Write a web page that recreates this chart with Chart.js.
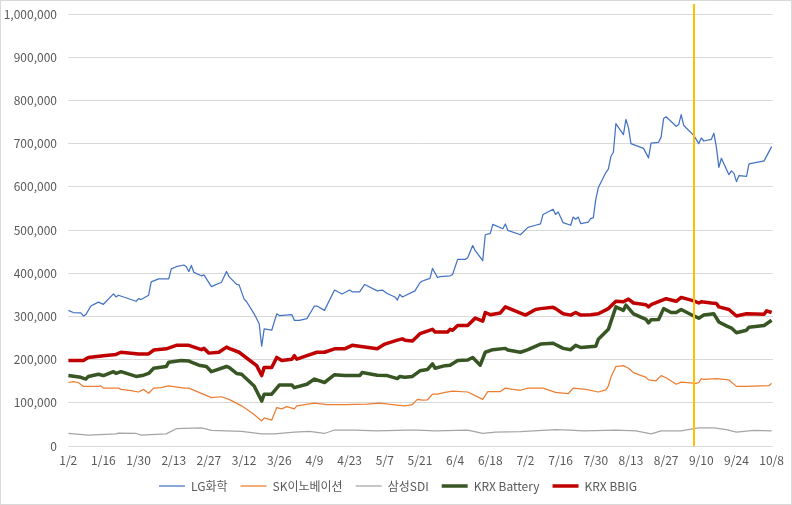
<!DOCTYPE html>
<html>
<head>
<meta charset="utf-8">
<script src="https://cdn.jsdelivr.net/npm/chart.js@4.4.1/dist/chart.umd.min.js"></script>
<style>
  html, body { margin: 0; padding: 0; background: #fff; }
  #wrap { width: 792px; height: 505px; box-sizing: border-box; border: 1px solid #d9d9d9; }
  canvas { display: block; }
</style>
</head>
<body>
<div id="wrap"><canvas id="chart" width="790" height="503"></canvas></div>
<script>
// values in thousand won (2020)
const tickLabels = ['1/2','1/16','1/30','2/13','2/27','3/12','3/26','4/9','4/23','5/7','5/21','6/4','6/18','7/2','7/16','7/30','8/13','8/27','9/10','9/24','10/8'];
const markerDate = '9/7';

const lgDates = ['1/2','1/4','1/7','1/8','1/9','1/11','1/14','1/16','1/20','1/21','1/22','1/29','1/30','1/31','2/3','2/4','2/7','2/11','2/12','2/14',
  '2/17','2/18','2/19','2/20','2/21','2/24','2/25','2/28','3/3','3/5','3/6','3/9','3/10','3/12','3/13','3/16','3/18','3/19','3/20','3/23',
  '3/25','3/26','3/31','4/1','4/3','4/6','4/9','4/10','4/13','4/17','4/20','4/23','4/24','4/27','4/29','5/4','5/6','5/8','5/11','5/12',
  '5/13','5/14','5/19','5/21','5/22','5/25','5/26','5/28','5/29','6/2','6/3','6/5','6/8','6/9','6/11','6/12','6/15','6/16','6/18','6/19',
  '6/23','6/24','6/25','6/30','7/3','7/6','7/8','7/9','7/13','7/14','7/15','7/17','7/20','7/21','7/22','7/23','7/24','7/27','7/28','7/29',
  '7/30','7/31','8/3','8/4','8/5','8/6','8/7','8/10','8/11','8/12','8/13','8/18','8/20','8/21','8/24','8/25','8/26','8/27','8/31','9/1',
  '9/2','9/3','9/7','9/9','9/10','9/11','9/14','9/15','9/16','9/17','9/18','9/21','9/22','9/23','9/24','9/25','9/28','9/29','10/5','10/8'];
const lgValues = [314,309,308,301,304,324,333,328,352,345,349,335,341,339,349,380,387,387,410,415,
  419,415,404,418,402,394,396,369,379,404,392,374,373,340,334,306,283,231,271,268,
  306,302,304,291,291,295,324,324,314,361,352,361,357,357,374,359,361,353,345,338,
  351,345,359,378,382,388,411,390,392,394,397,432,432,436,464,452,429,489,492,513,
  503,514,499,489,506,511,514,536,548,536,542,517,511,530,525,530,515,518,527,528,
  571,598,633,641,670,680,746,721,756,737,700,689,667,701,703,715,758,762,740,744,
  767,742,719,700,713,706,710,724,692,645,666,628,637,631,612,626,624,653,660,693];

const skDates = ['1/2','1/4','1/6','1/8','1/14','1/15','1/16','1/22','1/23','1/27','1/30','2/1','2/3','2/5','2/8','2/11','2/17','2/19','2/28','3/3',
  '3/6','3/11','3/16','3/19','3/20','3/23','3/25','3/27','3/29','4/1','4/2','4/9','4/14','4/21','4/30','5/5','5/10','5/15','5/18','5/19',
  '5/20','5/22','5/24','5/26','5/28','5/31','6/3','6/9','6/15','6/17','6/22','6/24','6/27','6/30','7/3','7/9','7/14','7/19','7/21','7/26',
  '7/31','8/3','8/4','8/5','8/7','8/10','8/12','8/14','8/19','8/20','8/23','8/25','8/27','8/31','9/2','9/8','9/9','9/10','9/11','9/16',
  '9/21','9/24','9/28','10/7','10/8'];
const skValues = [147,149,147,138,138,139,134,134,131,128,125,131,122,134,135,139,134,134,112,114,
  108,93,73,58,65,60,89,86,91,86,93,99,96,96,97,99,96,93,96,102,
  108,106,107,120,120,124,127,125,108,126,126,134,131,129,134,134,124,121,134,131,
  125,130,139,159,184,186,180,170,159,153,151,163,158,143,148,145,147,156,154,156,
  153,138,138,140,145];

const sdiDates = ['1/2','1/10','1/21','1/22','1/29','1/31','2/10','2/14','2/17','2/24','2/28','3/5','3/11','3/19','3/24','4/1','4/7','4/13','4/17','4/25',
  '5/4','5/16','5/20','5/27','6/9','6/15','6/20','6/30','7/14','7/20','7/25','8/7','8/15','8/21','8/25','9/2','9/7','9/9','9/15','9/20',
  '9/24','10/1','10/8'];
const sdiValues = [29,25,28,30,29,25,28,40,41,42,36,35,34,28,28,32,34,29,37,37,
  35,37,37,35,37,29,32,33,38,37,35,37,35,28,35,35,40,42,42,38,
  32,36,35];

const batteryDates = ['1/2','1/7','1/9','1/10','1/14','1/16','1/20','1/21','1/23','1/29','2/1','2/3','2/5','2/10','2/11','2/16','2/19','2/20','2/23','2/26',
  '2/28','3/5','3/6','3/9','3/11','3/16','3/19','3/20','3/23','3/26','3/31','4/1','4/6','4/9','4/13','4/17','4/21','4/27','4/28','5/4',
  '5/8','5/12','5/13','5/15','5/18','5/21','5/24','5/26','5/27','5/31','6/2','6/5','6/9','6/11','6/14','6/16','6/19','6/24','6/25','6/30',
  '7/3','7/8','7/13','7/17','7/20','7/22','7/24','7/30','7/31','8/4','8/7','8/10','8/11','8/14','8/19','8/20','8/21','8/24','8/26','8/29',
  '8/31','9/2','9/7','9/9','9/11','9/15','9/17','9/20','9/22','9/24','9/28','9/29','10/5','10/8'];
const batteryValues = [163,159,155,161,166,163,172,168,172,161,164,168,180,184,194,198,197,194,187,184,
  172,184,182,168,166,139,104,120,120,141,141,135,143,155,147,165,163,163,170,164,
  163,156,161,159,161,174,177,190,180,186,187,198,199,205,187,217,223,226,222,217,
  223,236,238,226,223,233,228,231,247,270,322,314,326,306,293,285,292,293,318,309,
  309,316,301,296,303,306,287,278,273,262,268,275,279,291];

const bbigDates = ['1/2','1/8','1/10','1/16','1/21','1/23','1/30','2/3','2/5','2/10','2/14','2/19','2/24','2/25','2/27','3/2','3/5','3/6','3/10','3/17',
  '3/19','3/20','3/23','3/25','3/27','3/31','4/1','4/2','4/6','4/10','4/13','4/17','4/21','4/24','4/29','5/4','5/7','5/12','5/14','5/15',
  '5/18','5/21','5/26','5/27','6/1','6/2','6/3','6/5','6/9','6/12','6/15','6/16','6/18','6/22','6/24','7/2','7/6','7/8','7/13','7/14',
  '7/17','7/20','7/22','7/24','7/28','7/31','8/4','8/7','8/10','8/12','8/14','8/19','8/20','8/21','8/24','8/27','8/31','9/2','9/7','9/9',
  '9/10','9/14','9/16','9/17','9/21','9/24','9/28','10/5','10/6','10/8'];
const bbigValues = [198,198,205,209,212,217,213,213,222,225,233,233,223,226,215,217,229,226,217,186,
  163,182,182,205,198,201,209,201,209,217,217,225,225,233,229,225,236,245,248,245,
  243,260,270,264,264,270,268,279,279,296,289,309,304,308,322,303,316,318,321,318,
  306,303,309,303,304,306,318,335,334,340,331,327,322,327,334,341,335,344,336,331,
  334,331,330,322,316,301,306,305,313,309];

function dayOf(label) {
  const [m, d] = label.split('/').map(Number);
  return Math.round((new Date(2020, m - 1, d) - new Date(2020, 0, 2)) / 86400000);
}

function points(dates, values) {
  return dates.map((d, i) => ({ x: dayOf(d), y: values[i] * 1000 }));
}

function line(label, dates, values, color, width, order) {
  return {
    label: label,
    data: points(dates, values),
    borderColor: color,
    backgroundColor: color,
    borderWidth: width,
    pointRadius: 0,
    tension: 0,
    fill: false,
    borderJoinStyle: 'round',
    order: order
  };
}

// vertical marker on 9/7
const markerLine = {
  id: 'markerLine',
  afterDatasetsDraw(chart) {
    const { ctx, chartArea, scales } = chart;
    const x = Math.round(scales.x.getPixelForValue(dayOf(markerDate)));
    ctx.save();
    ctx.strokeStyle = '#FFC000';
    ctx.lineWidth = 2;
    ctx.beginPath();
    ctx.moveTo(x, chartArea.top - 10);
    ctx.lineTo(x, chartArea.bottom);
    ctx.stroke();
    ctx.restore();
  }
};

// a stray vertical edge shows at the plot's left side; paint it out last
const leftEdge = {
  id: 'leftEdge',
  afterDraw(chart) {
    const { ctx, chartArea } = chart;
    ctx.save();
    ctx.fillStyle = '#ffffff';
    ctx.fillRect(chartArea.left - 2, chartArea.top - 1, 3.2, chartArea.bottom - chartArea.top + 6);
    ctx.restore();
  }
};

// push the legend row a bit to the right
const legendShift = {
  id: 'legendShift',
  afterLayout(chart) {
    chart.legend.left += 9;
    chart.legend.right += 9;
  }
};

Chart.defaults.font.family = "'Noto Sans CJK KR', 'Noto Sans', sans-serif";
Chart.defaults.font.size = 12;
Chart.defaults.color = '#595959';

const noBorder = { display: false, width: 0, color: 'rgba(0,0,0,0)' };

const ctx = document.getElementById('chart').getContext('2d');
const chart = new Chart(ctx, {
  type: 'line',
  data: {
    datasets: [
      line('LG화학', lgDates, lgValues, '#4472C4', 1.25, 5),
      line('SK이노베이션', skDates, skValues, '#ED7D31', 1.25, 4),
      line('삼성SDI', sdiDates, sdiValues, '#A5A5A5', 1.25, 3),
      line('KRX Battery', batteryDates, batteryValues, '#375623', 3.5, 2),
      line('KRX BBIG', bbigDates, bbigValues, '#C00000', 3.5, 1)
    ]
  },
  options: {
    responsive: false,
    animation: false,
    layout: { padding: { top: 13, right: 14, bottom: 2, left: 0 } },
    plugins: {
      tooltip: { enabled: false },
      legend: {
        position: 'bottom',
        reverse: true,
        labels: {
          usePointStyle: true,
          pointStyle: 'line',
          pointStyleWidth: 26,
          padding: 13,
          color: '#595959',
          font: { size: 12 }
        }
      }
    },
    scales: {
      x: {
        type: 'linear',
        min: -0.5,
        max: 280.5,
        grid: { display: false, drawTicks: false },
        border: noBorder,
        afterBuildTicks: (scale) => {
          scale.ticks = tickLabels.map(t => ({ value: dayOf(t) }));
        },
        afterFit: (scale) => { scale.height = 21; },
        ticks: {
          autoSkip: false,
          maxRotation: 0,
          padding: 7,
          callback: (value, index) => tickLabels[index]
        }
      },
      y: {
        min: 0,
        max: 1000000,
        grid: { color: '#d9d9d9', drawTicks: true, tickLength: 6, tickColor: 'rgba(0,0,0,0)' },
        border: noBorder,
        afterFit: (scale) => { scale.width = 66; },
        ticks: {
          stepSize: 100000,
          padding: 4,
          callback: (value) => value.toLocaleString('en-US')
        }
      }
    }
  },
  plugins: [markerLine, leftEdge, legendShift]
});
</script>
</body>
</html>
